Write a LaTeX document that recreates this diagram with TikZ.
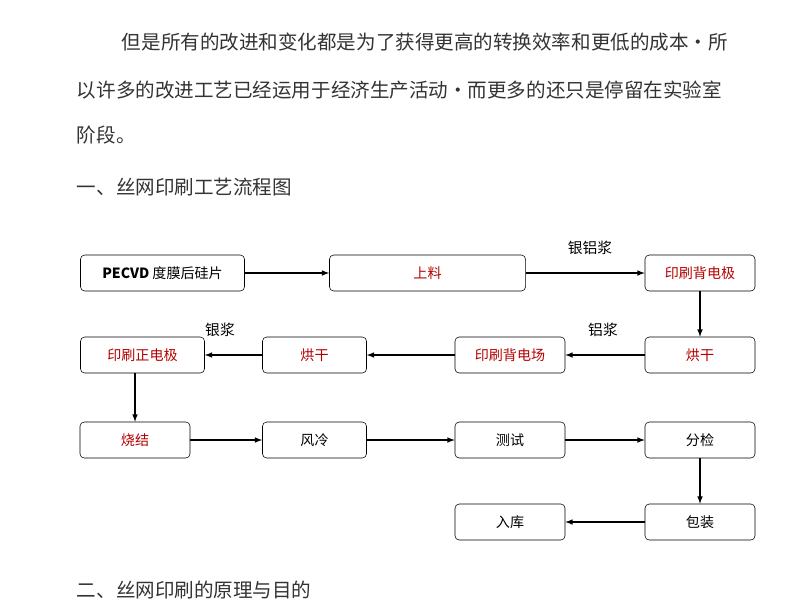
\documentclass[tikz,border=0pt]{standalone}
\usepackage{fontspec}
\setmainfont{Noto Sans CJK SC}
\usetikzlibrary{positioning}
\tikzset{
 stage/.style={draw, rounded corners=3pt, minimum height=0.9cm, inner sep=1pt, font=\fontsize{10}{12}\selectfont},
 hot/.style={stage, text=red!70!black},
 flow/.style={-latex, thick},
 note/.style={font=\fontsize{10.5}{12}\selectfont},
 body/.style={anchor=west, font=\fontsize{13.9}{16}\selectfont, text=black!80}
}
\begin{document}
\begin{tikzpicture}[x=0.025cm, y=-0.025cm]
 \useasboundingbox (0,0) rectangle (800,600);
 \node[body] (P1) at (117,42) {但是所有的改进和变化都是为了获得更高的转换效率和更低的成本·所};
 \node[body] (P2) at (72,90) {以许多的改进工艺已经运用于经济生产活动·而更多的还只是停留在实验室};
 \node[body] (P3) at (72,135) {阶段。};
 \node[body] (H1) at (72,187) {一、丝网印刷工艺流程图};
 \node[body] (H2) at (72,590) {二、丝网印刷的原理与目的};

 \node[stage, minimum width=4.1cm] (A) at (162.5,273) {\textbf{PECVD} 度膜后硅片};
 \node[hot, minimum width=4.9cm] (B) at (427.5,273) {上料};
 \node[hot, minimum width=2.75cm] (C) at (700,273) {印刷背电极};

 \node[hot, minimum width=3.1cm] (D) at (142.5,355) {印刷正电极};
 \node[hot, minimum width=2.6cm] (E) at (314.5,355) {烘干};
 \node[hot, minimum width=2.75cm] (F) at (510,355) {印刷背电场};
 \node[hot, minimum width=2.75cm] (G) at (700,355) {烘干};

 \node[hot, minimum width=2.75cm] (H) at (135,440) {烧结};
 \node[stage, minimum width=2.6cm] (I) at (314.5,440) {风冷};
 \node[stage, minimum width=2.75cm] (J) at (510,440) {测试};
 \node[stage, minimum width=2.75cm] (K) at (700,440) {分检};

 \node[stage, minimum width=2.75cm] (L) at (510,522) {入库};
 \node[stage, minimum width=2.75cm] (M) at (700,522) {包装};

 \node[note] (n1) at (590,248) {银铝浆};
 \node[note] (n2) at (603,330) {铝浆};
 \node[note] (n3) at (220,330) {银浆};

 \draw[flow] (A) -- (B);
 \draw[flow] (B) -- (C);
 \draw[flow] (C) -- (G);
 \draw[flow] (G) -- (F);
 \draw[flow] (F) -- (E);
 \draw[flow] (E) -- (D);
 \draw[flow] (D.south -| H) -- (H);
 \draw[flow] (H) -- (I);
 \draw[flow] (I) -- (J);
 \draw[flow] (J) -- (K);
 \draw[flow] (K) -- (M);
 \draw[flow] (M) -- (L);
\end{tikzpicture}
\end{document}
